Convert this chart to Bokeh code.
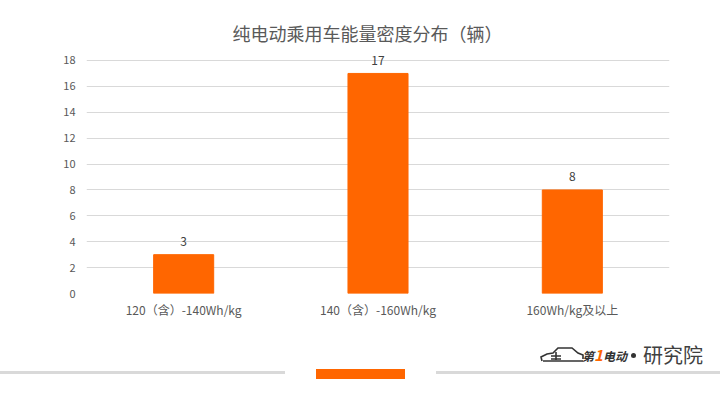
from bokeh.plotting import figure
from bokeh.models import Range1d, FactorRange, FixedTicker, Label, ColumnDataSource, Div
from bokeh.layouts import column
from bokeh.embed import file_html
from bokeh.resources import INLINE
from bokeh.core.properties import value

categories = ["120（含）-140Wh/kg", "140（含）-160Wh/kg", "160Wh/kg及以上"]
counts = [3, 17, 8]
y_ticks = [0, 2, 4, 6, 8, 10, 12, 14, 16, 18]
title_text = "纯电动乘用车能量密度分布（辆）"

ORANGE = "#FF6600"
GRID = "#D9D9D9"
TXT = "#595959"
FONT = "Noto Sans CJK SC"

src = ColumnDataSource(dict(cat=categories, val=counts, lbl=[str(v) for v in counts]))

p = figure(width=720, height=335,
           x_range=FactorRange(factors=categories, range_padding=0),
           y_range=Range1d(0, 22.635),
           output_backend="svg", toolbar_location=None,
           min_border_left=86, min_border_right=51,
           min_border_top=0, min_border_bottom=42)
p.outline_line_color = None
p.background_fill_color = "white"
p.border_fill_color = "white"

p.vbar(x="cat", top="val", width=0.309, source=src,
       fill_color=ORANGE, line_color=ORANGE)

p.text(x="cat", y="val", text="lbl", source=src, y_offset=-13,
       text_align="center", text_baseline="middle",
       text_font=value(FONT), text_font_size="12px", text_color="#404040")

ticker = FixedTicker(ticks=y_ticks)
p.yaxis.ticker = ticker
p.ygrid.ticker = ticker
p.ygrid.grid_line_color = GRID
p.ygrid.grid_line_width = 1
p.xgrid.grid_line_color = None

for ax in (p.xaxis, p.yaxis):
    ax.axis_line_color = None
    ax.major_tick_line_color = None
    ax.minor_tick_line_color = None
    ax.major_tick_in = 0
    ax.major_tick_out = 0
    ax.major_label_text_font = FONT
    ax.major_label_text_color = TXT
p.yaxis.major_label_text_font_size = "11px"
p.xaxis.major_label_text_font_size = "12px"
p.yaxis.major_label_standoff = 11
p.xaxis.major_label_standoff = 7

p.add_layout(Label(x=1.446, y=20.16, text=title_text, text_align="center",
                   text_baseline="middle", text_font=FONT,
                   text_font_size="18px", text_color=TXT))

footer_html = """
<div style="position:relative;width:720px;height:65px;overflow:hidden;background:white;">
  <div style="position:absolute;left:0px;top:36px;width:285px;height:3px;background:#D9D9D9;"></div>
  <div style="position:absolute;left:316px;top:34px;width:89px;height:10px;background:#FF6600;"></div>
  <div style="position:absolute;left:436px;top:36px;width:284px;height:3px;background:#D9D9D9;"></div>
  <svg style="position:absolute;left:539px;top:10px;" width="46" height="20" viewBox="0 0 46 20">
    <path d="M3,16 L2,12 L8,9 L14,8 L19,3 L33,3 L39,8 L44,10 L44,14 M4,16 L44,16" fill="none" stroke="#333" stroke-width="1.6"/>
    <path d="M12,11 L22,11 M17,7 L17,15 M12,14 L22,14" fill="none" stroke="#333" stroke-width="1.6"/>
  </svg>
  <div style="position:absolute;left:582px;top:11px;height:18px;line-height:18px;font-family:'Noto Sans CJK SC';font-size:12px;font-weight:bold;font-style:italic;color:#333;white-space:nowrap;">第<span style="color:#FF6600;font-size:15px;">1</span>电动</div>
  <div style="position:absolute;left:631px;top:18px;width:5px;height:5px;border-radius:50%;background:#333;"></div>
  <div style="position:absolute;left:643px;top:9px;height:22px;line-height:22px;font-family:'Noto Sans CJK SC';font-size:20px;color:#404040;white-space:nowrap;">研究院</div>
</div>
"""
footer = Div(text=footer_html, width=720, height=65, margin=0)

layout = column(p, footer, spacing=0)
open("out.html", "w").write(file_html(layout, INLINE))
